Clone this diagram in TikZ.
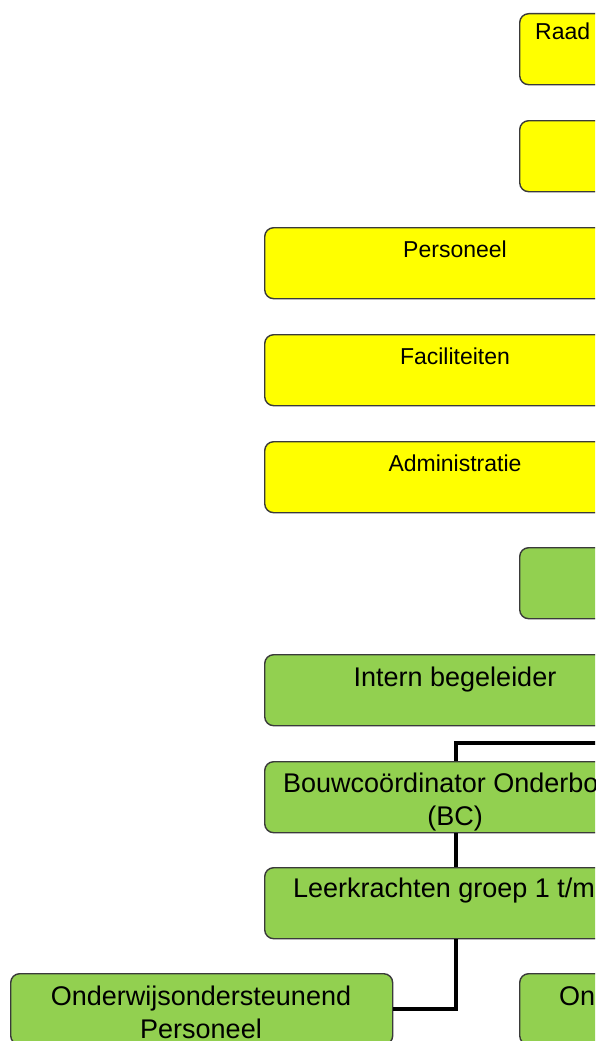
\documentclass[tikz,border=0pt]{standalone}
\usepackage{fontspec}
\setmainfont{Liberation Sans}
\definecolor{boxyellow}{HTML}{FFFF00}
\definecolor{boxgreen}{HTML}{92D050}
\definecolor{boxedge}{HTML}{3A3A3A}
\begin{document}
\begin{tikzpicture}[x=1pt,y=-1pt,
  orgbox/.style={draw=boxedge, line width=1.4pt, rounded corners=9pt,
    minimum width=382pt, minimum height=71pt, inner sep=0pt, anchor=north west},
  ybox/.style={orgbox, fill=boxyellow},
  gbox/.style={orgbox, fill=boxgreen},
  ytext/.style={font=\fontsize{23}{27}\selectfont, inner sep=0pt, text=black},
  gtext/.style={font=\fontsize{27}{33}\selectfont, inner sep=0pt, text=black, align=center},
  link/.style={line width=4pt, black}
]
\useasboundingbox (0,0) rectangle (595,1041);
\clip (0,0) rectangle (595,1041);

% yellow boxes
\node[ybox] (raad) at (519,13) {};
\node[ytext, anchor=base west] (raadt) at (535,40) {Raad};
\node[ybox] (geel2) at (519,120) {};
\node[ybox] (pers) at (264,227) {};
\node[ytext, anchor=base] (perst) at (455,257) {Personeel};
\node[ybox] (fac) at (264,334) {};
\node[ytext, anchor=base] (fact) at (455,364) {Faciliteiten};
\node[ybox] (adm) at (264,441) {};
\node[ytext, anchor=base] (admt) at (455,471) {Administratie};

% green boxes
\node[gbox] (groen1) at (519,547) {};
\node[gbox] (ib) at (264,654) {};
\node[gtext, anchor=base] (ibt) at (455,686) {Intern begeleider};
\node[gbox] (bouw) at (264,761) {};
\node[gtext, anchor=base west] (bouwt) at (283,792) {Bouwcoördinator Onderbo};
\node[gtext, anchor=base] (bouwbc) at (455,825) {(BC)};
\node[gbox] (leer) at (264,867) {};
\node[gtext, anchor=base west] (leert) at (293,897) {Leerkrachten groep 1 t/m};
\node[gbox] (ows) at (10,973) {};
\node[gtext, anchor=base] (owst) at (201,1038) {Onderwijsondersteunend\\Personeel};
\node[gbox] (on) at (519,973) {};
\node[gtext, anchor=base west] (ont) at (559,1005) {On};

% connectors
\coordinate (bcin) at (640,743);
\draw[link] (bcin) -| (bouw.north);
\draw[link] (bouw.south) -- (leer.north);
\draw[link] (leer.south) |- (ows.east);
\end{tikzpicture}
\end{document}
